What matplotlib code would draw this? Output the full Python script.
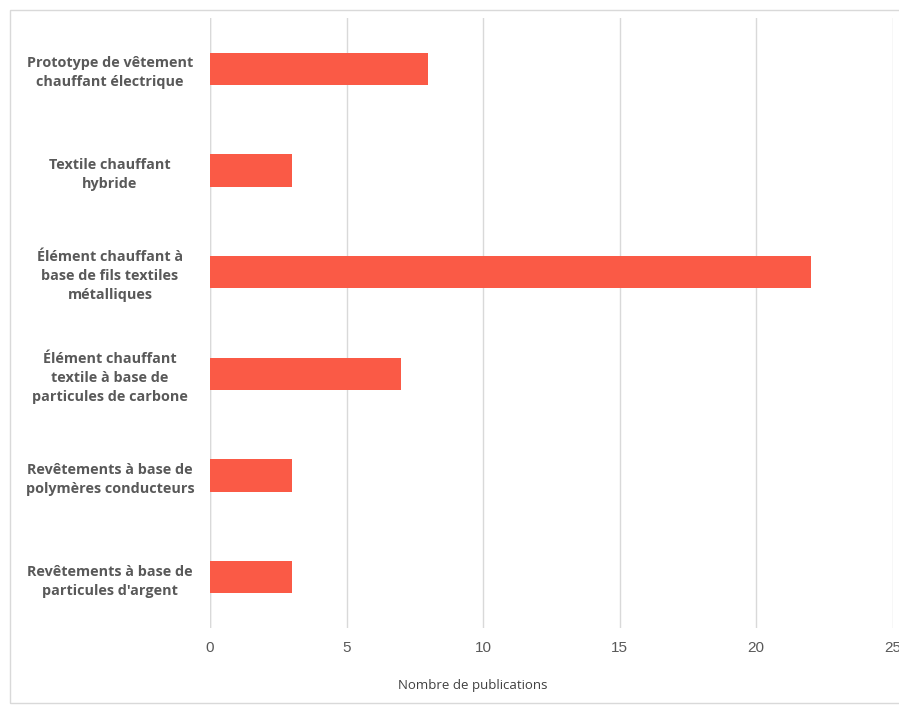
import matplotlib.pyplot as plt
from matplotlib.patches import Rectangle

# données
categories = [
    "Prototype de vêtement\nchauffant électrique",
    "Textile chauffant\nhybride",
    "Élément chauffant à\nbase de fils textiles\nmétalliques",
    "Élément chauffant\ntextile à base de\nparticules de carbone",
    "Revêtements à base de\npolymères conducteurs",
    "Revêtements à base de\nparticules d'argent",
]
valeurs = [8, 3, 22, 7, 3, 3]
ticks_x = [0, 5, 10, 15, 20, 25]

couleur = "#FA5A46"
gris = "#595959"

fig = plt.figure(figsize=(8.99, 7.07), dpi=100)
ax = fig.add_axes([210/899, 1-628/707, (892.5-210)/899, (628-18)/707])

pos = list(range(len(categories)))
ax.barh(pos, valeurs, height=0.32, color=couleur, zorder=3)
ax.set_ylim(len(categories)-0.5, -0.5)
ax.set_xlim(0, 25)
ax.set_xticks(ticks_x)
ax.set_xticklabels([str(t) for t in ticks_x], fontsize=11, color=gris,
                   family="Liberation Sans")
ax.set_yticks(pos)
ax.set_yticklabels(categories, fontsize=10.4, fontweight="bold", color=gris,
                   family="Open Sans", ha="center", linespacing=1.45)
ax.tick_params(axis="y", length=0, pad=72)  # pad en points
ax.tick_params(axis="x", length=0, pad=9)
ax.grid(axis="x", color="#D9D9D9", linewidth=1, zorder=0)
for s in ax.spines.values():
    s.set_visible(False)
ax.axvline(0, color="#D9D9D9", linewidth=1, zorder=1)

fig.text(473/899, 1-685/707, "Nombre de publications", ha="center", va="center",
         fontsize=9.5, color="#404040", family="Open Sans")

# cadre autour du graphique
fig.patches.append(Rectangle((10/899, 1-703/707), 950/899, 693/707,
                             transform=fig.transFigure, fill=False,
                             edgecolor="#D9D9D9", linewidth=1))

fig.savefig("out.png", dpi=100)
